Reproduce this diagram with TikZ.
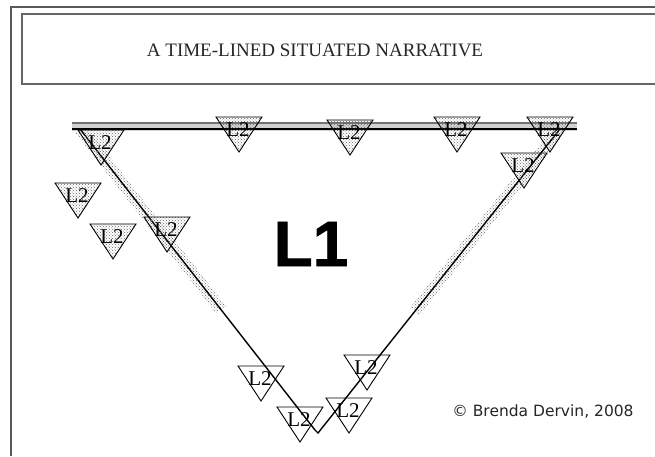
\documentclass[tikz,border=0pt]{standalone}
\usepackage{fontspec}
\setmainfont{Liberation Serif}
\newfontfamily\heavysans[FakeBold=1.3]{Liberation Sans Bold}
\newfontfamily\notefont{DejaVu Sans}
\usetikzlibrary{calc,patterns}

% one inverted level-2 triangle: name, x and y of the top edge centre, fill style
\newcommand\lmark[4]{%
  \coordinate (#1) at (#2,#3);
  \path[#4] ($(#1)+(-23,0)$) -- ($(#1)+(23,0)$) -- ($(#1)+(0,35)$) -- cycle;
  \draw[tri] ($(#1)+(-23,0)$) -- ($(#1)+(23,0)$) -- ($(#1)+(0,35)$) -- cycle;
  \node[lab] (#1-l) at ($(#1)+(-1,13)$) {L2};
}

\begin{document}
\begin{tikzpicture}[x=1pt,y=-1pt,
  frame/.style={draw=black!65, line width=2pt},
  titlebox/.style={draw=black!60, line width=1.5pt},
  side/.style={draw=black, line width=1.4pt},
  tri/.style={draw=black, line width=0.9pt},
  grainy/.style={pattern=crosshatch dots, pattern color=black!60},
  lab/.style={font=\fontsize{21}{21}\selectfont, inner sep=0pt},
]
\useasboundingbox (0,0) rectangle (655,456);
\fill[white] (0,0) rectangle (655,456);

% page frame and title box
\draw[frame] (655,7) -- (11,7) -- (11,456);
\draw[titlebox] (655,14) -- (22,14) -- (22,84) -- (655,84);
\node[font=\fontsize{19}{19}\selectfont, text=black!85, inner sep=0pt] (title) at (315,50) {A TIME-LINED SITUATED NARRATIVE};

% corners of the large triangle
\coordinate (TL) at (72,129);
\coordinate (TR) at (577,129);
\coordinate (A) at (80,129);
\coordinate (B) at (560,129);
\coordinate (V1) at (315,430);
\coordinate (V2) at (318,433);
\coordinate (G1) at ($(A)!0.6!(V1)$);
\coordinate (G2) at ($(B)!0.6!(V2)$);

% grainy bands along the upper parts of the sides
\fill[grainy] ($(A)!6pt!90:(G1)$) -- ($(A)!6pt!-90:(G1)$) -- ($(G1)!6pt!90:(A)$) -- ($(G1)!6pt!-90:(A)$) -- cycle;
\fill[grainy] ($(B)!6pt!90:(G2)$) -- ($(B)!6pt!-90:(G2)$) -- ($(G2)!6pt!90:(B)$) -- ($(G2)!6pt!-90:(B)$) -- cycle;
\fill[black!18] (72,122) rectangle (577,131);

% sides
\draw[black!55, line width=1.2pt] (72,123) -- (577,123);
\draw[side, line width=2pt] (TL) -- (TR);
\draw[side] (A) -- (V1) -- (V2) -- (B);

% level-2 triangles
\lmark{t1}{261}{366}{}
\lmark{t2}{300}{407}{}
\lmark{t3}{349}{398}{}
\lmark{t4}{367}{355}{}
\lmark{t5}{239}{117}{grainy}
\lmark{t6}{350}{120}{grainy}
\lmark{t7}{457}{117}{grainy}
\lmark{t8}{550}{117}{grainy}
\lmark{t9}{524}{153}{grainy}
\lmark{t10}{101}{130}{grainy}
\lmark{t11}{78}{183}{grainy}
\lmark{t12}{113}{224}{grainy}
\lmark{t13}{167}{217}{grainy}

% level-1 label
\node[font=\heavysans\fontsize{64}{64}\selectfont, inner sep=0pt] (L1) at (311,244) {L1};

% credit
\node[font=\notefont\fontsize{15.5}{15.5}\selectfont, text=black!85, inner sep=0pt] (credit) at (543,412) {© Brenda Dervin, 2008};
\end{tikzpicture}
\end{document}
